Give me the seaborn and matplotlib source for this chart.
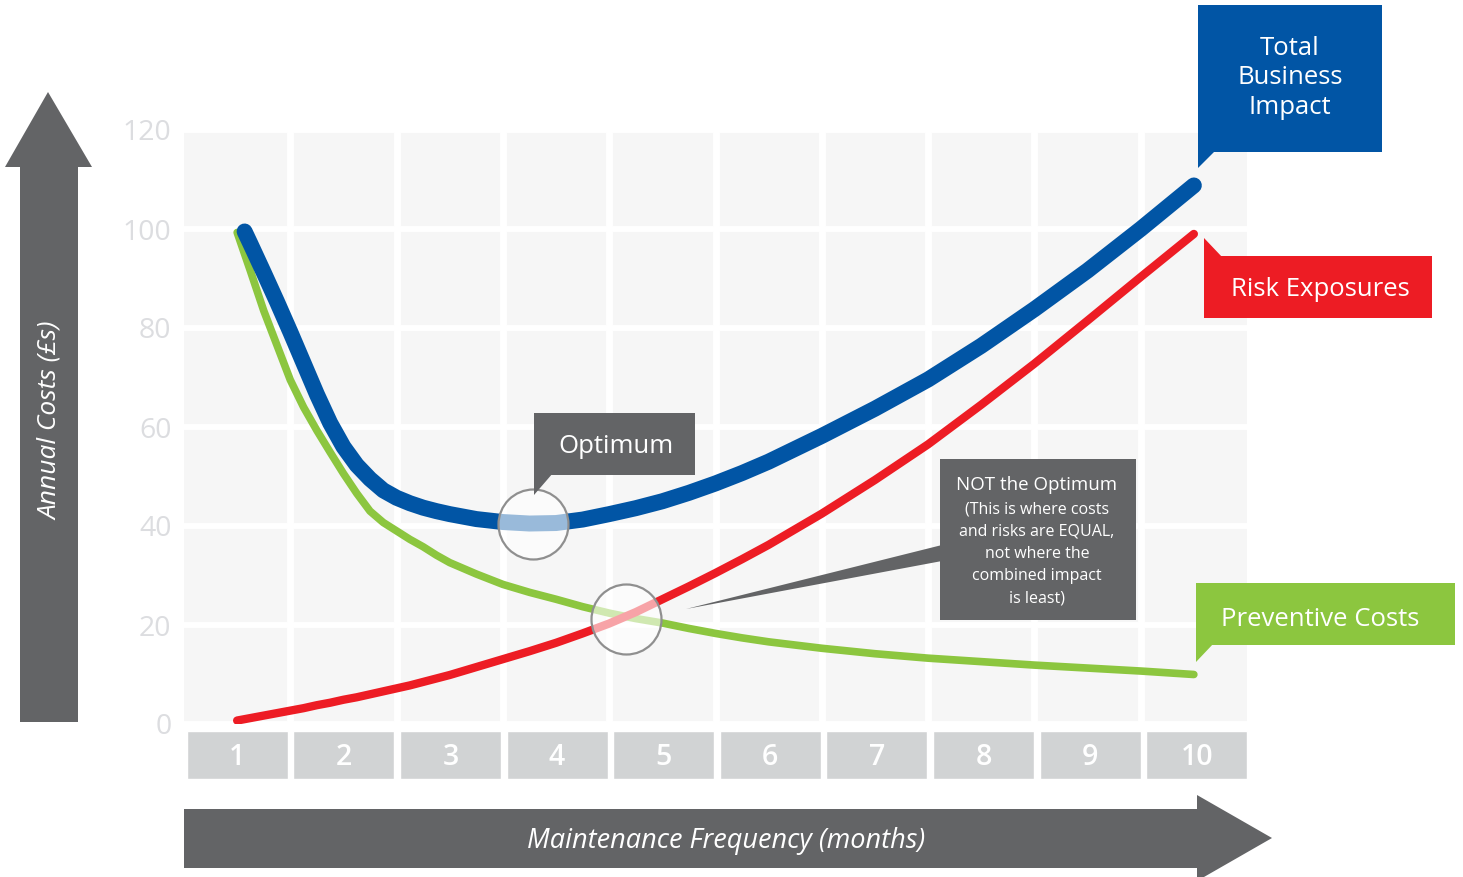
import matplotlib.pyplot as plt
from matplotlib.patches import Polygon, Rectangle
import pandas as pd
import seaborn as sns

# data
months = [1, 1.125, 1.25, 1.375, 1.5, 1.625, 1.75, 1.875, 2, 2.125, 2.25, 2.375, 2.5,
          2.625, 2.75, 2.875, 3, 3.25, 3.5, 3.75, 4, 4.25, 4.5, 4.75, 5, 5.25, 5.5,
          5.75, 6, 6.5, 7, 7.5, 8, 8.5, 9, 9.5, 10]
total_months = [1.07] + months[1:]
preventive = [99.3, 91.5, 83.5, 76.5, 69.5, 64.0, 59.3, 54.9, 50.6, 46.6, 43.0, 40.7, 39.0,
              37.3, 35.8, 34.1, 32.6, 30.3, 28.2, 26.6, 25.2, 23.7, 22.4, 21.3, 20.4, 19.3, 18.3,
              17.4, 16.6, 15.3, 14.2, 13.3, 12.6, 11.9, 11.3, 10.7, 10.0]
risk = [0.7, 1.2, 1.7, 2.2, 2.7, 3.2, 3.8, 4.3, 4.9, 5.4, 6.0, 6.6, 7.2,
        7.8, 8.5, 9.2, 9.9, 11.5, 13.1, 14.7, 16.4, 18.3, 20.3, 22.6, 25.2, 27.8, 30.5,
        33.3, 36.2, 42.5, 49.3, 56.5, 64.5, 72.8, 81.5, 90.3, 99.0]
total = [99.5, 97.0, 91.2, 85.3, 79.2, 72.9, 66.6, 60.8, 56.0, 52.3, 49.5, 47.2, 45.7,
         44.6, 43.7, 43.0, 42.4, 41.4, 40.8, 40.5, 40.6, 41.3, 42.4, 43.6, 45.0, 46.7, 48.6,
         50.7, 53.0, 58.2, 63.7, 69.6, 76.4, 83.8, 91.6, 100.0, 108.8]
tick_months = list(range(1, 11))
y_ticks = [0, 20, 40, 60, 80, 100, 120]
optimum_point = (3.78, 40.4)
equal_point = (4.66, 21.2)

BLUE = '#0155a5'
RED = '#ed1c24'
GREEN = '#8cc63f'
DARK = '#636466'

sns.set_theme(style='white')
plt.rcParams['font.family'] = ['Open Sans', 'DejaVu Sans']

W, H = 1463, 877
fig = plt.figure(figsize=(W / 100, H / 100), dpi=100)


def fx(x):
    return x / W


def fy(y):
    return 1 - y / H


def pts(coords):
    return [(fx(x), fy(y)) for x, y in coords]


def shape(coords, color):
    fig.add_artist(Polygon(pts(coords), closed=True, color=color, lw=0,
                           transform=fig.transFigure))


def box(x0, y0, x1, y1, color):
    fig.add_artist(Rectangle((fx(x0), fy(y1)), fx(x1) - fx(x0), fy(y0) - fy(y1),
                             color=color, lw=0, transform=fig.transFigure))


# main plot area
ax = fig.add_axes([fx(184), fy(724), fx(1247) - fx(184), fy(130) - fy(724)])
ax.set_facecolor('#f6f6f6')
ax.set_xlim(0.5, 10.5)
ax.set_ylim(0, 120)
for s in ax.spines.values():
    s.set_visible(False)
ax.set_xticks(tick_months)
ax.set_xticks([m + 0.5 for m in tick_months[:-1]], minor=True)
ax.set_yticks(y_ticks)
ax.grid(which='minor', axis='x', color='white', lw=5)
ax.grid(which='major', axis='y', color='white', lw=4.3)
ax.grid(which='major', axis='x', visible=False)
ax.set_axisbelow(True)
ax.tick_params(axis='x', which='both', length=0, labelbottom=False)
ax.tick_params(axis='y', length=0, pad=9, labelsize=20.5, labelcolor='#dcdde0')

df = pd.DataFrame({'month': months, 'preventive': preventive, 'risk': risk})
line_kw = dict(solid_capstyle='round', solid_joinstyle='round', ax=ax)
sns.lineplot(data=df, x='month', y='preventive', color=GREEN, lw=5.5, zorder=3, **line_kw)
sns.lineplot(data=df, x='month', y='risk', color=RED, lw=6, zorder=4, **line_kw)
sns.lineplot(x=total_months, y=total, color=BLUE, lw=11.5, zorder=5, **line_kw)
ax.set_xlabel('')
ax.set_ylabel('')

# highlight circles
ax.scatter([optimum_point[0], equal_point[0]], [optimum_point[1], equal_point[1]],
           s=2540, facecolor=(1, 1, 1, 0.6), edgecolor='#8f8f8f', lw=1.6, zorder=6)

# x tick boxes
ax_x = fig.add_axes([fx(184), fy(779), fx(1250) - fx(184), fy(731) - fy(779)])
ax_x.set_xlim(0.5, 10.5)
ax_x.set_ylim(0, 1)
ax_x.bar(tick_months, [1] * len(tick_months), width=0.947, color='#d1d3d4')
for m in tick_months:
    ax_x.text(m, 0.44, str(m), ha='center', va='center', color='white',
              fontsize=20.5, fontweight='semibold')
ax_x.axis('off')

# axis arrows
shape([(20, 722), (78, 722), (78, 167), (92, 167), (48, 92), (5, 167), (20, 167)], DARK)
fig.text(fx(50), fy(421), 'Annual Costs (£s)', rotation=90, ha='center', va='center',
         color='white', fontsize=19, style='italic')
shape([(184, 809), (1197, 809), (1197, 795), (1272, 838), (1197, 881),
       (1197, 868), (184, 868)], DARK)
fig.text(fx(726), fy(841), 'Maintenance Frequency (months)', ha='center', va='center',
         color='white', fontsize=19.5, style='italic')

# callouts
box(1198, 5, 1382, 152, BLUE)
shape([(1198, 150), (1198, 168), (1216, 150)], BLUE)
fig.text(fx(1290), fy(78), 'Total\nBusiness\nImpact', ha='center', va='center',
         color='white', fontsize=18.5, linespacing=1.22)

box(1204, 256, 1432, 318, RED)
shape([(1204, 238), (1204, 258), (1223, 258)], RED)
fig.text(fx(1320), fy(290), 'Risk Exposures', ha='center', va='center',
         color='white', fontsize=18.5)

box(1196, 583, 1455, 645, GREEN)
shape([(1196, 643), (1196, 662), (1214, 643)], GREEN)
fig.text(fx(1320), fy(619), 'Preventive Costs', ha='center', va='center',
         color='white', fontsize=18.5)

box(534, 413, 695, 475, DARK)
shape([(534, 473), (534, 495), (553, 473)], DARK)
fig.text(fx(616), fy(447), 'Optimum', ha='center', va='center',
         color='white', fontsize=18.5)

box(940, 459, 1136, 620, DARK)
shape([(686, 609), (942, 545), (942, 561)], DARK)
fig.text(fx(1037), fy(485), 'NOT the Optimum', ha='center', va='center',
         color='white', fontsize=13.5)
note_lines = ['(This is where costs', 'and risks are EQUAL,', 'not where the',
              'combined impact', 'is least)']
for i, line in enumerate(note_lines):
    fig.text(fx(1037), fy(509 + i * 22.3), line, ha='center', va='center',
             color='white', fontsize=11.5)

fig.savefig('out.png', dpi=100)
